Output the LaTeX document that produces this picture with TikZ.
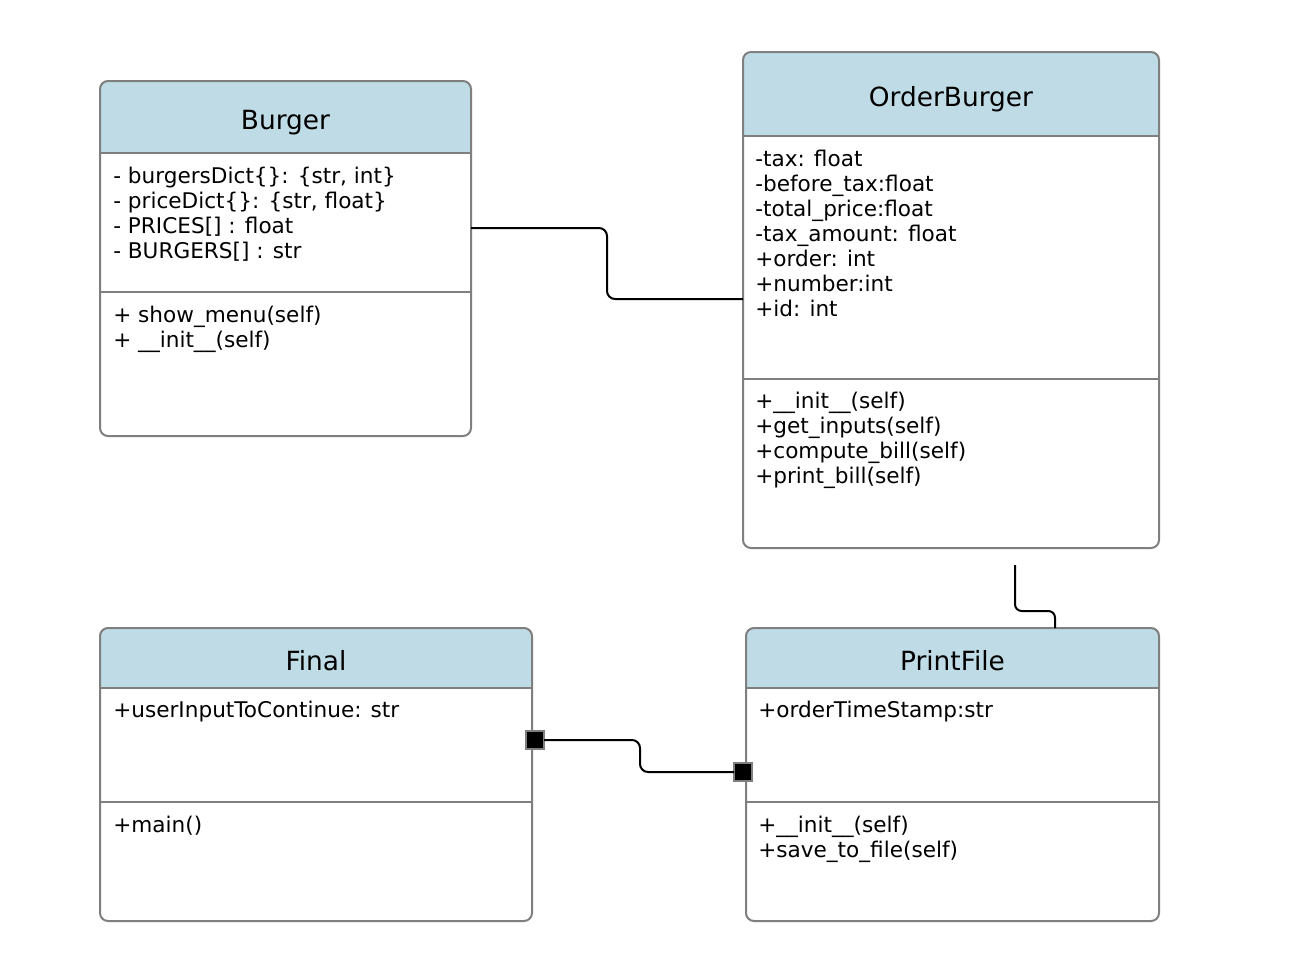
\documentclass[tikz,border=0pt]{standalone}
\usepackage{fontspec}
\setmainfont{DejaVu Sans}
\definecolor{hdrblue}{HTML}{BFDCE6}
\definecolor{framegray}{HTML}{7F7F7F}

\tikzset{
  frame/.style={draw=framegray, line width=1.5pt},
  classbody/.style={fill=white, inner sep=0, outer sep=0, anchor=north west, rounded corners=6pt},
  classtitle/.style={anchor=base, inner sep=0, font=\fontsize{19.8}{23}\selectfont},
  member/.style={anchor=base west, inner sep=0, font=\fontsize{16.2}{18.75}\selectfont},
  conn/.style={draw=black, line width=1.5pt, rounded corners=6pt},
  endsq/.style={draw=framegray, fill=black, line width=1.5pt, minimum size=13.5pt, inner sep=0, outer sep=0},
}

% #1 name, #2 left, #3 top, #4 right, #5 bottom, #6 header bottom, #7 divider, #8 title
\newcommand\umlclass[8]{%
  \node[classbody, minimum width={(#4-#2)*0.75pt}, minimum height={(#5-#3)*0.75pt}] (#1) at (#2,#3) {};
  \fill[hdrblue] (#2,#6) [rounded corners=6pt] -- (#2,#3) -- (#4,#3) [sharp corners] -- (#4,#6) -- cycle;
  \draw[frame] (#2,#6) -- (#4,#6) (#2,#7) -- (#4,#7);
  \draw[frame, rounded corners=6pt] (#1.north west) rectangle (#1.south east);
  \node[classtitle] (#1-title) at ({(#2+#4)/2},{(#3+#6)/2+12}) {#8};
}

% #1 name prefix, #2 left x, #3 first baseline, #4 list of lines
\newcommand\members[4]{%
  \foreach \m [count=\i from 0] in {#4} {\node[member] (#1-\i) at (#2,{#3+25*\i}) {\m};}
}

\begin{document}
\begin{tikzpicture}[x=0.75pt, y=-0.75pt]
  \useasboundingbox (0,0) rectangle (1314,976);
  \fill[white] (0,0) rectangle (1314,976);

  % classes
  \umlclass{burger}{100}{81}{471}{436}{153}{292}{Burger}
  \members{burgerattr}{113}{183}{{- burgersDict\{\}: \{str, int\}},{- priceDict\{\}: \{str, float\}},{- PRICES[] : float},{- BURGERS[] : str}}
  \members{burgerops}{113}{322}{{+ show\_menu(self)},{+ \_\_init\_\_(self)}}

  \umlclass{order}{743}{52}{1159}{548}{136}{379}{OrderBurger}
  \members{orderattr}{755}{166}{{-tax: float},{-before\_tax:float},{-total\_price:float},{-tax\_amount: float},{+order: int},{+number:int},{+id: int}}
  \members{orderops}{755}{408}{{+\_\_init\_\_(self)},{+get\_inputs(self)},{+compute\_bill(self)},{+print\_bill(self)}}

  \umlclass{final}{100}{628}{532}{921}{688}{802}{Final}
  \members{finalattr}{113}{717}{{+userInputToContinue: str}}
  \members{finalops}{113}{832}{{+main()}}

  \umlclass{printfile}{746}{628}{1159}{921}{688}{802}{PrintFile}
  \members{printattr}{758}{717}{{+orderTimeStamp:str}}
  \members{printops}{758}{832}{{+\_\_init\_\_(self)},{+save\_to\_file(self)}}

  % Burger -- OrderBurger
  \coordinate (b1) at (607,228);
  \coordinate (b2) at (607,299);
  \draw[conn] (burger.east |- b1) -- (b1) -- (b2) -- (order.west |- b2);

  % loose link above PrintFile
  \coordinate (loose) at (1015,565);
  \coordinate (p1) at (1055,611);
  \draw[conn, rounded corners=5pt] (loose) |- (p1) -- (printfile.north -| p1);

  % Final -- PrintFile with square ends
  \coordinate (f1) at (640,740);
  \coordinate (f2) at (640,772);
  \node[endsq] (sqf) at (535,740) {};
  \node[endsq] (sqp) at (743,772) {};
  \draw[conn] (sqf) -- (f1) -- (f2) -- (sqp);
\end{tikzpicture}
\end{document}
